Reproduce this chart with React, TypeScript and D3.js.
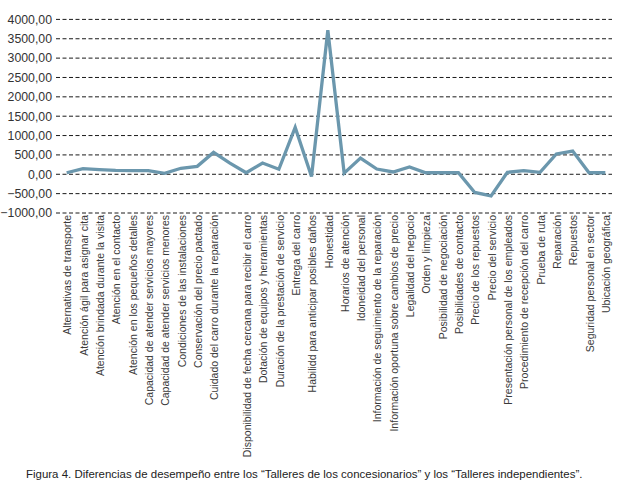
import { useEffect, useRef } from 'react';
import * as d3 from 'd3';

// attribute names (one category with no label in the source figure)
const categories: string[] = [
  'Alternativas de transporte',
  'Atención ágil para asignar cita',
  'Atención brindada durante la visita',
  'Atención en el contacto',
  'Atención en los pequeños detalles',
  'Capacidad de atender servicios mayores',
  'Capacidad de atender servicios menores',
  'Condiciones de las instalaciones',
  'Conservación del precio pactado',
  'Cuidado del carro durante la reparación',
  '',
  'Disponibilidad de fecha cercana para recibir el carro',
  'Dotación de equipos y herramientas',
  'Duración de la prestación de servicio',
  'Entrega del carro',
  'Habilidd para anticipar posibles daños',
  'Honestidad',
  'Horarios de atención',
  'Idoneidad del personal',
  'Información de seguimiento de la reparación',
  'Información oportuna sobre cambios de precio',
  'Legalidad del negocio',
  'Orden y limpieza',
  'Posibilidad de negociación',
  'Posibilidades de contacto',
  'Precio de los repuestos',
  'Precio del servicio',
  'Presentación personal de los empleados',
  'Procedimiento de recepción del carro',
  'Prueba de ruta',
  'Reparación',
  'Repuestos',
  'Seguridad personal en sector',
  'Ubicación geográfica',
];

const differences: number[] = [
  40, 145, 120, 100, 95, 95, 25, 155, 205, 565,
  290, 40, 290, 130, 1210, -60, 3720, 30, 420, 135,
  60, 190, 40, 40, 40, -470, -560, 50, 95, 50,
  525, 600, 40, 40,
];

const yTicks: number[] = [-1000, -500, 0, 500, 1000, 1500, 2000, 2500, 3000, 3500, 4000];

const caption =
  'Figura 4. Diferencias de desempeño entre los “Talleres de los concesionarios” y los “Talleres independientes”.';

const W = 618;
const H = 491;
const FONT = '"Liberation Sans", Arial, sans-serif';

export default function App() {
  const svgRef = useRef<SVGSVGElement>(null);

  useEffect(() => {
    document.body.style.margin = '0';
    if (!svgRef.current) return;
    const svg = d3.select(svgRef.current);
    svg.selectAll('*').remove();

    const gridLeft = 56;
    const gridRight = 612;

    const x = d3.scalePoint<number>()
      .domain(categories.map((_, i) => i))
      .range([58.5, 613.5])
      .padding(0.5);

    const y = d3.scaleLinear().domain([-1000, 4000]).range([213, 19.4]);

    // dashed gridlines
    svg.append('g')
      .selectAll('line')
      .data(yTicks)
      .enter()
      .append('line')
      .attr('x1', gridLeft)
      .attr('x2', gridRight)
      .attr('y1', d => y(d))
      .attr('y2', d => y(d))
      .attr('stroke', '#1a1a1a')
      .attr('stroke-width', 1)
      .attr('stroke-dasharray', '4,2.5');

    // y labels
    svg.append('g')
      .selectAll('text')
      .data(yTicks)
      .enter()
      .append('text')
      .attr('x', 52)
      .attr('y', d => y(d))
      .attr('dy', '0.35em')
      .attr('text-anchor', 'end')
      .style('font-family', FONT)
      .style('font-size', '12.3px')
      .style('fill', '#333')
      .text(d => d3.format('.2f')(d).replace('.', ','));

    // category labels
    svg.append('g')
      .selectAll('text')
      .data(categories)
      .enter()
      .append('text')
      .attr('transform', (_, i) => `translate(${x(i)! + 1},215) rotate(-90)`)
      .attr('dy', '0.35em')
      .attr('text-anchor', 'end')
      .style('font-family', FONT)
      .style('font-size', '10.5px')
      .style('fill', '#3a3a3a')
      .text(d => d);

    // line
    const line = d3.line<number>()
      .x((_, i) => x(i)!)
      .y(d => y(d));

    svg.append('path')
      .datum(differences)
      .attr('d', line)
      .attr('fill', 'none')
      .attr('stroke', '#6b97ad')
      .attr('stroke-width', 3.3)
      .attr('stroke-linejoin', 'miter');

    // caption, sized to span the same width as in the figure
    const cap = svg.append('text')
      .attr('x', 26)
      .attr('y', 478)
      .style('font-family', FONT)
      .style('font-size', '12px')
      .style('fill', '#222')
      .text(caption);
    const len = (cap.node() as SVGTextElement).getComputedTextLength();
    if (len > 0) cap.style('font-size', `${(12 * 557) / len}px`);
  }, []);

  return (
    <svg
      ref={svgRef}
      width={W}
      height={H}
      style={{ position: 'absolute', left: 0, top: 0, background: '#fff' }}
    />
  );
}
